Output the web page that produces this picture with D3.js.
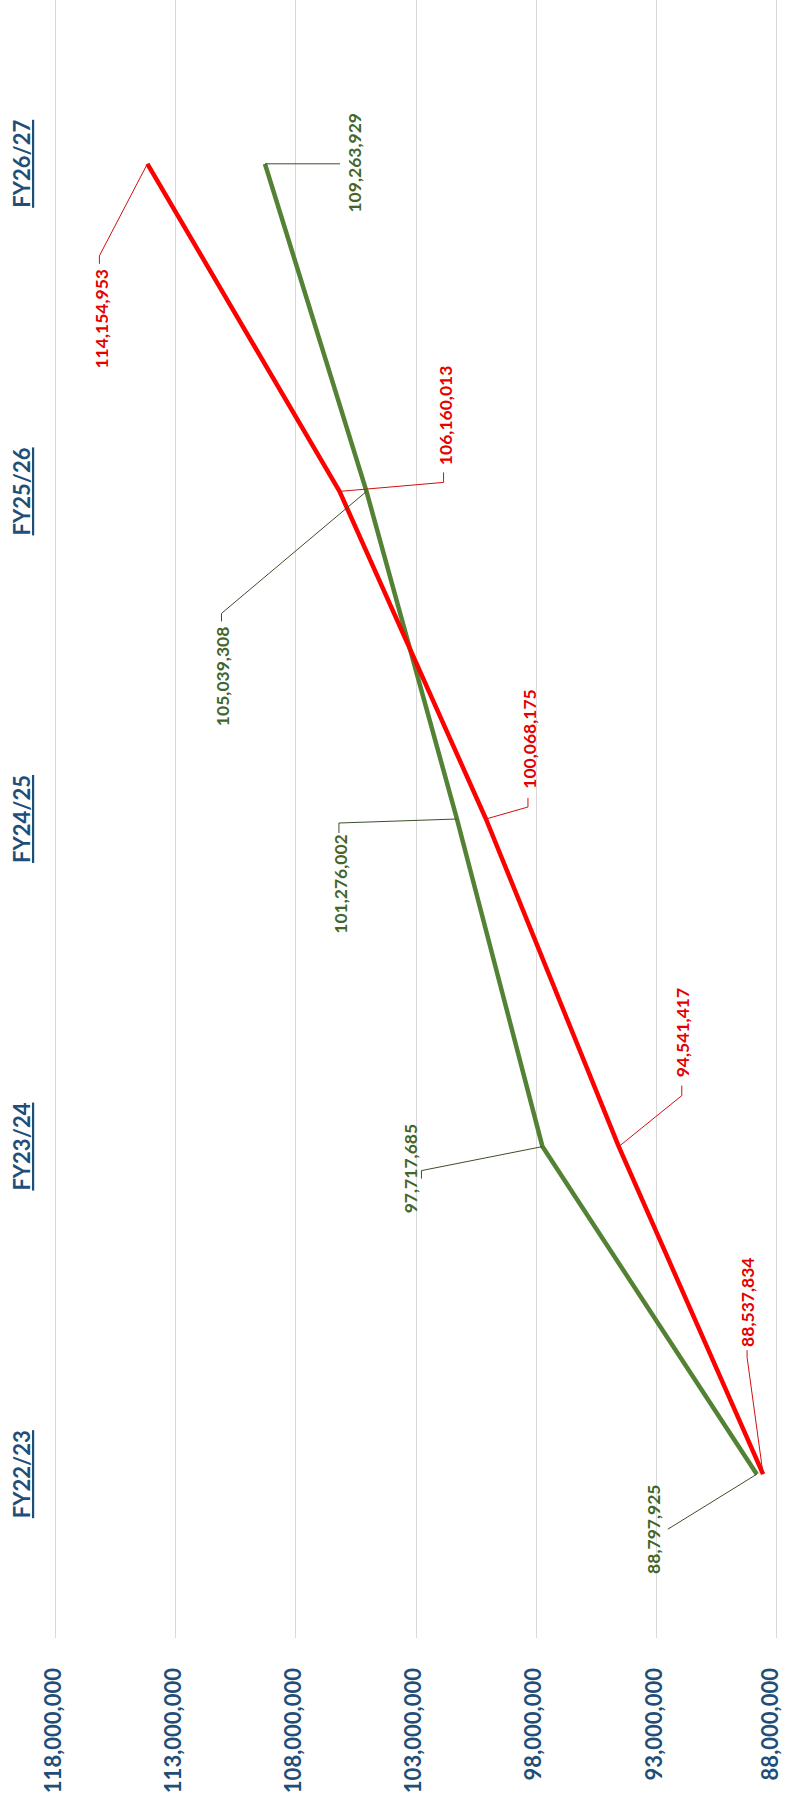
<!DOCTYPE html>
<meta charset="utf-8">
<style>

html,body {
  padding:0px;
  margin: 0px;
  background-color:white;
}

.grid line {
  stroke: #d9d9d9;
  stroke-width: 1px;
  shape-rendering: crispEdges;
}

.grid text {
  fill: #1f4e79;
  font-weight: bold;
  font-size: 22px;
  font-family: Lato, "Liberation Sans", sans-serif;
}

.cats text {
  fill: #1f4e79;
  font-weight: bold;
  font-size: 22px;
  font-family: Lato, "Liberation Sans", sans-serif;
  text-decoration: underline;
}

.line {
  fill: none;
  stroke-width: 4.5px;
  stroke-linejoin: round;
}

.lbl {
  font-weight: bold;
  font-size: 17.5px;
  font-family: Lato, "Liberation Sans", sans-serif;
}

.leader {
  fill: none;
  stroke-width: 1px;
}

</style>
<body>
<svg></svg>
</body>
<script src="https://cdn.jsdelivr.net/npm/d3@7"></script>
<script>

// data
var years = ["FY22/23", "FY23/24", "FY24/25", "FY25/26", "FY26/27"];
var redValues = [88537834, 94541417, 100068175, 106160013, 114154953];
var greenValues = [88797925, 97717685, 101276002, 105039308, 109263929];
var ticks = [118000000, 113000000, 108000000, 103000000, 98000000, 93000000, 88000000];

var W = 785, H = 1797;
var plotBottom = 1638;

var svg = d3.select("svg").attr("width", W).attr("height", H);

// chart is drawn turned on its side: values run right-to-left, years bottom-to-top
var x = d3.scaleLinear().domain([88000000, 118000000]).range([776, 55]);
var y = d3.scaleBand().domain(years).range([plotBottom, 0]).padding(0);
var yc = function(d) { return y(d) + y.bandwidth() / 2; };

// value axis + gridlines
var gx = svg.append("g")
  .attr("class", "grid")
  .attr("transform", "translate(0," + plotBottom + ")")
  .call(d3.axisBottom(x).tickValues(ticks).tickSize(-plotBottom).tickFormat(d3.format(",")));
gx.select(".domain").remove();
gx.selectAll("text")
  .attr("transform", "rotate(-90)")
  .attr("x", -30)
  .attr("y", 0)
  // last label sits on the page edge, pull it in a little
  .attr("dy", function(d) { return x(d) > W - 20 ? "0.08em" : "0.24em"; })
  .style("text-anchor", "end");

// year labels
var gy = svg.append("g")
  .attr("class", "cats")
  .attr("transform", "translate(55,0)")
  .call(d3.axisLeft(y).tickSize(0));
gy.select(".domain").remove();
gy.selectAll("text")
  .attr("transform", "rotate(-90)")
  .attr("x", 0)
  .attr("y", -25)
  .attr("dy", 0)
  .style("text-anchor", "middle");

var series = [
  { values: redValues, line: "#ff0000", text: "#e60000", lead: "#d01010",
    // label centre offset and leader bend/end, relative to the point
    lab: [[-15, -172, -16, -117, -16, -124], [64, -114, 63, -51, 63, -61], [44, -80, 42, -12, 42, -21],
          [106, -76, 104, -9, 104, -19], [-46, 155, -48, 92, -48, 100]] },
  { values: greenValues, line: "#548235", text: "#42662a", lead: "#3b4f2a",
    lab: [[-103, 55, -89, 55, -89, 55], [-132, 22, -121, 24, -121, 32], [-116, 65, -118, 4, -118, 14],
          [-144, 185, -145, 122, -145, 130], [90, -1, 75, 0, 75, 0]] }
];

var line = d3.line()
  .x(function(d) { return x(d.v); })
  .y(function(d) { return yc(d.c); });

// green first so red sits on top
series.slice().reverse().forEach(function(s) {
  var pts = years.map(function(c, i) { return { c: c, v: s.values[i] }; });
  svg.append("path")
    .datum(pts)
    .attr("class", "line")
    .attr("stroke", s.line)
    .attr("d", line);
});

series.forEach(function(s) {
  years.forEach(function(c, i) {
    var px = x(s.values[i]), py = yc(c), o = s.lab[i];
    svg.append("path")
      .attr("class", "leader")
      .attr("stroke", s.lead)
      .attr("d", "M" + px + "," + py + "L" + (px + o[2]) + "," + (py + o[3]) + "L" + (px + o[4]) + "," + (py + o[5]));
    svg.append("text")
      .attr("class", "lbl")
      .attr("fill", s.text)
      .attr("transform", "translate(" + (px + o[0]) + "," + (py + o[1]) + ") rotate(-90)")
      .attr("text-anchor", "middle")
      .attr("dy", "0.35em")
      .text(d3.format(",")(s.values[i]));
  });
});

</script>
